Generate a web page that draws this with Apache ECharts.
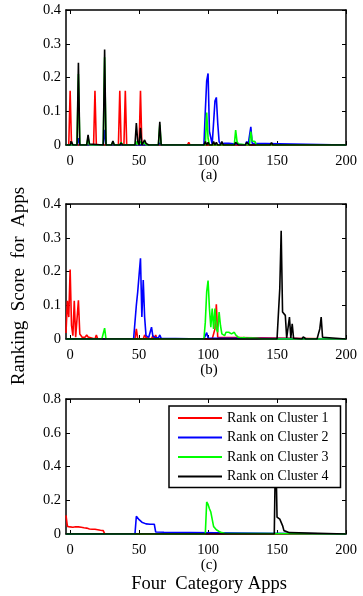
<!DOCTYPE html>
<html><head><meta charset="utf-8">
<script src="https://cdn.jsdelivr.net/npm/echarts@6/dist/echarts.min.js"></script>
<style>html,body{margin:0;padding:0;background:#fff}#c{width:363px;height:596px}</style>
</head><body><div id="c"></div>
<script>
// ---------- data ----------
const seriesNames = ["Rank on Cluster 1","Rank on Cluster 2","Rank on Cluster 3","Rank on Cluster 4"];
const seriesColors = ["#ff0000","#0000ff","#00ff00","#000000"];
const xTicks = [0,50,100,150,200];
const yTicksAB = [0,0.1,0.2,0.3,0.4];
const yTicksC = [0,0.2,0.4,0.6,0.8];
const panelLabels = ["(a)","(b)","(c)"];

// panel (a)
const aRed = [[-3,0],[-1,0],[0,0.161],[1,0],[17,0],[18,0.161],[19,0],[35,0],[36,0.161],[37,0],[39,0],[40,0.161],[41,0],[50,0],[51,0.161],[52,0],[85,0],[86,0.008],[87,0],[158,0],[159,0.003],[160,0],[200,0]];
const aBlue = [[-3,0],[5,0],[6,0.02],[7,0],[24,0],[25,0.045],[26,0],[64,0],[65,0.006],[66,0],[97,0],[98,0.1],[99,0.19],[100,0.212],[101,0.04],[102,0.035],[103,0.003],[104,0.005],[105,0.13],[106,0.141],[107,0.065],[108,0.01],[109,0.003],[112,0.005],[115,0.005],[116,0.002],[127,0],[128,0.01],[129,0],[130,0.002],[131,0.054],[132,0.005],[133,0],[200,0]];
const aGreen = [[-3,0],[5,0],[6,0.21],[7,0],[12,0],[13,0.022],[14,0],[24,0],[25,0.26],[26,0],[30,0],[31,0.01],[32,0],[36,0],[37,0.008],[38,0],[47,0],[48,0.01],[49,0],[50,0],[51,0.01],[52,0],[53,0],[54,0.008],[55,0],[64,0],[65,0.06],[66,0],[98,0],[99,0.096],[100,0.02],[101,0],[115,0],[116,0.005],[117,0],[119,0],[120,0.044],[121,0.01],[122,0.003],[123,0],[130,0],[131,0.04],[132,0.012],[133,0.008],[134,0.01],[135,0],[200,0]];
const aBlack = [[-3,0],[0,0],[1,0.01],[2,0],[5,0],[6,0.244],[7,0],[12,0],[13,0.03],[14,0.003],[15,0],[24,0],[25,0.283],[26,0],[30,0],[31,0.012],[32,0],[36,0],[37,0.006],[38,0],[47,0],[48,0.065],[49,0.01],[50,0],[51,0.051],[52,0],[53,0],[54,0.015],[55,0.005],[56,0.01],[57,0],[64,0],[65,0.069],[66,0],[97,0],[98,0.01],[99,0],[100,0.008],[101,0],[103,0],[104,0.01],[105,0],[106,0.008],[107,0],[109,0],[110,0.01],[111,0],[119,0],[120,0.008],[121,0.01],[122,0],[127,0],[128,0.008],[129,0.01],[130,0],[145,0],[146,0.007],[147,0],[167,0],[168,0.005],[169,0],[200,0]];

// panel (b)
const bRed = [[-3,0.018],[-2,0.113],[-1,0.065],[0,0.206],[1,0.04],[2,0.01],[3,0.113],[4,0.005],[5,0.01],[6,0.115],[7,0.015],[8,0.012],[9,0.004],[10,0.002],[11,0.006],[12,0.012],[13,0.006],[14,0.002],[18,0],[19,0.012],[20,0],[29,0],[30,0.003],[31,0],[47,0],[48,0.03],[49,0],[53,0],[54,0.012],[55,0.004],[56,0],[59,0],[60,0.01],[61,0.002],[62,0.012],[63,0],[103,0],[104,0.005],[105,0.03],[106,0.103],[107,0.005],[108,0],[200,0]];
const bBlue = [[-3,0],[46,0],[47,0.005],[48,0.1],[49,0.14],[50,0.19],[51,0.239],[52,0.065],[53,0.175],[54,0.065],[55,0.01],[56,0.012],[57,0.005],[58,0.01],[59,0.035],[60,0.008],[61,0.01],[62,0.004],[63,0.005],[64,0.003],[65,0.012],[66,0.002],[67,0],[97,0],[98,0.005],[99,0.019],[100,0.003],[101,0],[200,0]];
const bGreen = [[-3,0],[23,0],[24,0.002],[25,0.032],[26,0],[97,0],[98,0.05],[99,0.14],[100,0.173],[101,0.09],[102,0.035],[103,0.09],[104,0.03],[105,0.09],[106,0.03],[107,0.02],[108,0.08],[109,0.04],[110,0.015],[111,0.01],[112,0.01],[113,0.02],[114,0.015],[115,0.02],[116,0.022],[117,0.015],[118,0.01],[119,0.02],[120,0.012],[121,0.008],[122,0.005],[123,0.006],[124,0.003],[126,0.004],[128,0.002],[130,0.003],[135,0.002],[140,0],[200,0]];
const bBlack = [[-3,0],[150,0],[151,0.002],[152,0.15],[153,0.321],[154,0.08],[155,0.075],[156,0.07],[157,0.003],[158,0.003],[159,0.065],[160,0.003],[161,0.045],[162,0.002],[163,0],[168,0],[169,0.006],[170,0.006],[171,0],[179,0],[180,0.005],[181,0.03],[182,0.065],[183,0.005],[184,0],[200,0]];

// panel (c)
const cRed = [[-3,0.11],[-2,0.045],[0,0.042],[2,0.04],[4,0.043],[6,0.042],[8,0.04],[10,0.037],[12,0.035],[14,0.03],[16,0.028],[18,0.028],[20,0.025],[22,0.022],[24,0.02],[25,0.002],[26,0],[200,0]];
const cBlue = [[-3,0],[47,0],[48,0.105],[49,0.095],[50,0.085],[51,0.075],[52,0.07],[53,0.065],[55,0.06],[58,0.058],[61,0.058],[62,0.012],[63,0.01],[68,0.01],[69,0],[200,0]];
const cGreen = [[-3,0],[98,0],[99,0.19],[100,0.175],[101,0.15],[102,0.13],[103,0.12],[104,0.045],[105,0.035],[106,0.025],[107,0.02],[108,0.015],[109,0.01],[110,0.008],[111,0.006],[112,0.004],[113,0],[200,0]];
const cBlack = [[-3,0],[148,0],[149,0.55],[150,0.1],[151,0.09],[152,0.088],[153,0.085],[154,0.05],[155,0.02],[156,0.01],[159,0.008],[160,0],[200,0]];

const panels = [[aRed,aBlue,aGreen,aBlack],[bRed,bBlue,bGreen,bBlack],[cRed,cBlue,cGreen,cBlack]];
const yMax = [0.4,0.4,0.8];
const yTicks = [yTicksAB,yTicksAB,yTicksC];

// ---------- layout ----------
const FONT = "Liberation Serif";
const gridTops = [10,204,399];
const GL = 66, GW = 280, GH = 135;

const grid = [], xAxis = [], yAxis = [], series = [];
const axisLine = {show:true,onZero:false,lineStyle:{color:'#000',width:1.5}};
for (let i=0;i<3;i++){
  grid.push({left:GL,top:gridTops[i],width:GW,height:GH,show:false});
  xAxis.push({gridIndex:i,type:'value',min:-3,max:200,position:'bottom',
    axisLine:axisLine,
    axisTick:{show:true,inside:true,length:4,customValues:xTicks,lineStyle:{color:'#000',width:1}},
    axisLabel:{show:true,customValues:xTicks,color:'#000',fontFamily:FONT,fontSize:14.5,margin:9},
    splitLine:{show:false}});
  xAxis.push({gridIndex:i,type:'value',min:-3,max:200,position:'top',
    axisLine:axisLine,
    axisTick:{show:true,inside:true,length:4,customValues:xTicks,lineStyle:{color:'#000',width:1}},
    axisLabel:{show:false},splitLine:{show:false}});
  yAxis.push({gridIndex:i,type:'value',min:0,max:yMax[i],position:'left',
    axisLine:axisLine,
    axisTick:{show:true,inside:true,length:4,customValues:yTicks[i],lineStyle:{color:'#000',width:1}},
    axisLabel:{show:true,customValues:yTicks[i],color:'#000',fontFamily:FONT,fontSize:14.5,margin:5},
    splitLine:{show:false}});
  yAxis.push({gridIndex:i,type:'value',min:0,max:yMax[i],position:'right',
    axisLine:axisLine,
    axisTick:{show:true,inside:true,length:4,customValues:yTicks[i],lineStyle:{color:'#000',width:1}},
    axisLabel:{show:false},splitLine:{show:false}});
  for (let s=0;s<4;s++){
    series.push({type:'line',name:seriesNames[s],xAxisIndex:2*i,yAxisIndex:2*i,
      data:panels[i][s],symbol:'none',showSymbol:false,animation:false,
      color:seriesColors[s],lineStyle:{color:seriesColors[s],width:1.6}});
  }
}

const graphic = [];
const labelY = [175,370,565];
for (let i=0;i<3;i++){
  graphic.push({type:'text',x:209,y:labelY[i],style:{text:panelLabels[i],font:'15px "Liberation Serif"',fill:'#000',textAlign:'center',textVerticalAlign:'middle'}});
}
graphic.push({type:'text',x:209,y:584,style:{text:'Four  Category Apps',font:'18.5px "Liberation Serif"',fill:'#000',textAlign:'center',textVerticalAlign:'middle'}});
graphic.push({type:'text',x:19,y:286,rotation:Math.PI/2,style:{text:'Ranking  Score  for  Apps',font:'19px "Liberation Serif"',fill:'#000',textAlign:'center',textVerticalAlign:'middle'}});

const chart = echarts.init(document.getElementById('c'),null,{renderer:'canvas'});
chart.setOption({
  animation:false,
  backgroundColor:'#fff',
  grid:grid, xAxis:xAxis, yAxis:yAxis, series:series, graphic:graphic,
  legend:{data:seriesNames,orient:'vertical',left:169,top:406,
    padding:[5,12,4,8],itemGap:5.5,itemWidth:44,itemHeight:14,
    backgroundColor:'#fff',borderColor:'#000',borderWidth:1.5,
    itemStyle:{opacity:0},
    textStyle:{fontFamily:FONT,fontSize:14,color:'#000'},
    selectedMode:false}
});
</script></body></html>
